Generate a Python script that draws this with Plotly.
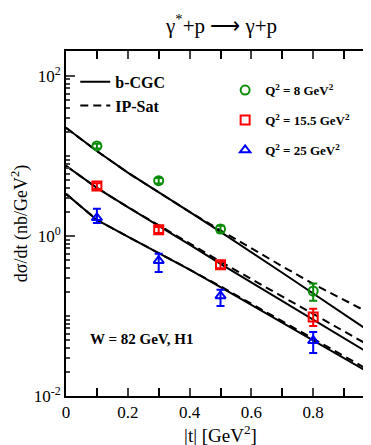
import numpy as np
import plotly.graph_objects as go

# |t| grid for the model curves
t_curve = [0.0, 0.1, 0.2, 0.3, 0.4, 0.5, 0.6, 0.7, 0.8, 0.9, 1.0]

# log10 of dsigma/dt
bcgc_q8 = [1.35, 1.06, 0.79, 0.55, 0.30, 0.05, -0.20, -0.46, -0.72, -0.98, -1.24]
ipsat_q8 = [1.35, 1.06, 0.79, 0.54, 0.30, 0.07, -0.16, -0.38, -0.60, -0.80, -1.00]
bcgc_q15 = [0.875, 0.60, 0.36, 0.13, -0.11, -0.35, -0.58, -0.81, -1.04, -1.28, -1.51]
ipsat_q15 = [0.875, 0.60, 0.36, 0.13, -0.10, -0.32, -0.54, -0.76, -0.98, -1.20, -1.41]
bcgc_q25 = [0.525, 0.20, -0.01, -0.21, -0.42, -0.64, -0.86, -1.08, -1.30, -1.52, -1.75]
ipsat_q25 = [0.525, 0.20, -0.01, -0.21, -0.42, -0.63, -0.85, -1.07, -1.29, -1.50, -1.72]

# H1 data, W = 82 GeV
t_data = [0.1, 0.3, 0.5, 0.8]
h1_q8 = [13.3, 4.9, 1.22, 0.205]
h1_q8_up = [0.9, 0.4, 0.12, 0.05]
h1_q8_dn = [0.9, 0.4, 0.12, 0.05]
h1_q15 = [4.2, 1.19, 0.435, 0.097]
h1_q15_up = [0.35, 0.1, 0.04, 0.026]
h1_q15_dn = [0.35, 0.1, 0.04, 0.022]
h1_q25 = [1.68, 0.49, 0.178, 0.049]
h1_q25_up = [0.5, 0.11, 0.035, 0.014]
h1_q25_dn = [0.23, 0.135, 0.045, 0.0145]

y_major = [0.01, 1, 100]
y_major_text = ["10<sup>-2</sup>", "10<sup>0</sup>", "10<sup>2</sup>"]
y_minor = [m * 10.0 ** e for e in (-2, -1, 0, 1) for m in range(2, 10)] + [0.1, 10]

serif = "Liberation Serif"

fig = go.Figure()

curves = [(bcgc_q8, ipsat_q8), (bcgc_q15, ipsat_q15), (bcgc_q25, ipsat_q25)]
for i, (solid, dashed) in enumerate(curves):
    fig.add_trace(go.Scatter(x=t_curve, y=10 ** np.array(solid), mode='lines',
                             line=dict(color='black', width=2),
                             name='b-CGC', showlegend=(i == 0), legend='legend'))
    fig.add_trace(go.Scatter(x=t_curve, y=10 ** np.array(dashed), mode='lines',
                             line=dict(color='black', width=2, dash='8px,5px'),
                             name='IP-Sat', showlegend=(i == 0), legend='legend'))

points = [
    (h1_q8, h1_q8_up, h1_q8_dn, '#0a8c0a', 'circle-open', 'Q<sup>2</sup> = 8 GeV<sup>2</sup>'),
    (h1_q15, h1_q15_up, h1_q15_dn, '#ff0000', 'square-open', 'Q<sup>2</sup> = 15.5 GeV<sup>2</sup>'),
    (h1_q25, h1_q25_up, h1_q25_dn, '#0000ff', 'triangle-up-open', 'Q<sup>2</sup> = 25 GeV<sup>2</sup>'),
]
for k, (vals, up, dn, col, sym, label) in enumerate(points):
    fig.add_trace(go.Scatter(x=t_data, y=vals, mode='markers', name=label,
                             legendgroup='q%d' % k,
                             marker=dict(symbol=sym, size=9, color=col,
                                         line=dict(width=2, color=col)),
                             error_y=dict(type='data', symmetric=False, array=up,
                                          arrayminus=dn, color=col, thickness=2, width=4),
                             legend='legend2'))

# invisible trace to carry the minor-tick axis
fig.add_trace(go.Scatter(x=[0], y=[1], mode='markers', marker=dict(opacity=0),
                         yaxis='y2', showlegend=False, hoverinfo='skip'))

fig.update_layout(
    width=371, height=445,
    margin=dict(l=58, r=4, t=43, b=57, autoexpand=False),
    plot_bgcolor='white', paper_bgcolor='white',
    font=dict(family=serif, size=16, color='black'),
    xaxis=dict(range=[0, 1], tickvals=[0, 0.2, 0.4, 0.6, 0.8, 1],
               ticktext=['0', '0.2', '0.4', '0.6', '0.8', '1'],
               ticks='inside', ticklen=8, tickwidth=2, showgrid=False, zeroline=False,
               showline=True, linewidth=2, linecolor='black', mirror='allticks',
               automargin=False,
               minor=dict(tickvals=[0.1, 0.3, 0.5, 0.7, 0.9], ticks='inside', ticklen=4,
                          tickwidth=2, tickcolor='black'),
               title=dict(text='|t| [GeV<sup>2</sup>]', font=dict(family=serif, size=19),
                          standoff=6),
               tickfont=dict(family=serif, size=17)),
    yaxis=dict(type='log', range=[-2, 2.31], tickvals=y_major, ticktext=y_major_text,
               ticks='inside', ticklen=9, tickwidth=2, showgrid=False, zeroline=False,
               showline=True, linewidth=2, linecolor='black', mirror='allticks',
               automargin=False,
               title=dict(text='dσ/dt (nb/GeV<sup>2</sup>)', font=dict(family=serif, size=18),
                          standoff=4),
               tickfont=dict(family=serif, size=17)),
    yaxis2=dict(type='log', range=[-2, 2.31], overlaying='y', side='left',
                tickvals=y_minor, showticklabels=False, ticks='inside', ticklen=4,
                tickwidth=1.5, showgrid=False, zeroline=False, showline=False,
                mirror='allticks', automargin=False),
    legend=dict(x=0.03, y=0.96, xanchor='left', yanchor='top', bgcolor='rgba(0,0,0,0)',
                font=dict(family=serif, size=16, color='black', weight='bold'),
                itemwidth=30, tracegroupgap=0),
    legend2=dict(x=0.515, y=0.93, xanchor='left', yanchor='top', bgcolor='rgba(0,0,0,0)',
                 font=dict(family=serif, size=13, color='black', weight='bold'),
                 itemwidth=30, tracegroupgap=10),
    annotations=[
        dict(text='γ<sup>*</sup>+p ⟶ γ+p', x=0.5, y=1.0, xref='paper', yref='paper',
             xanchor='center', yanchor='bottom', yshift=11, showarrow=False,
             font=dict(family=serif, size=21)),
        dict(text='<b>W = 82 GeV, H1</b>', x=0.07, y=0.165, xref='paper', yref='paper',
             xanchor='left', yanchor='middle', showarrow=False,
             font=dict(family=serif, size=15)),
    ],
)

fig.write_html("out.html")
